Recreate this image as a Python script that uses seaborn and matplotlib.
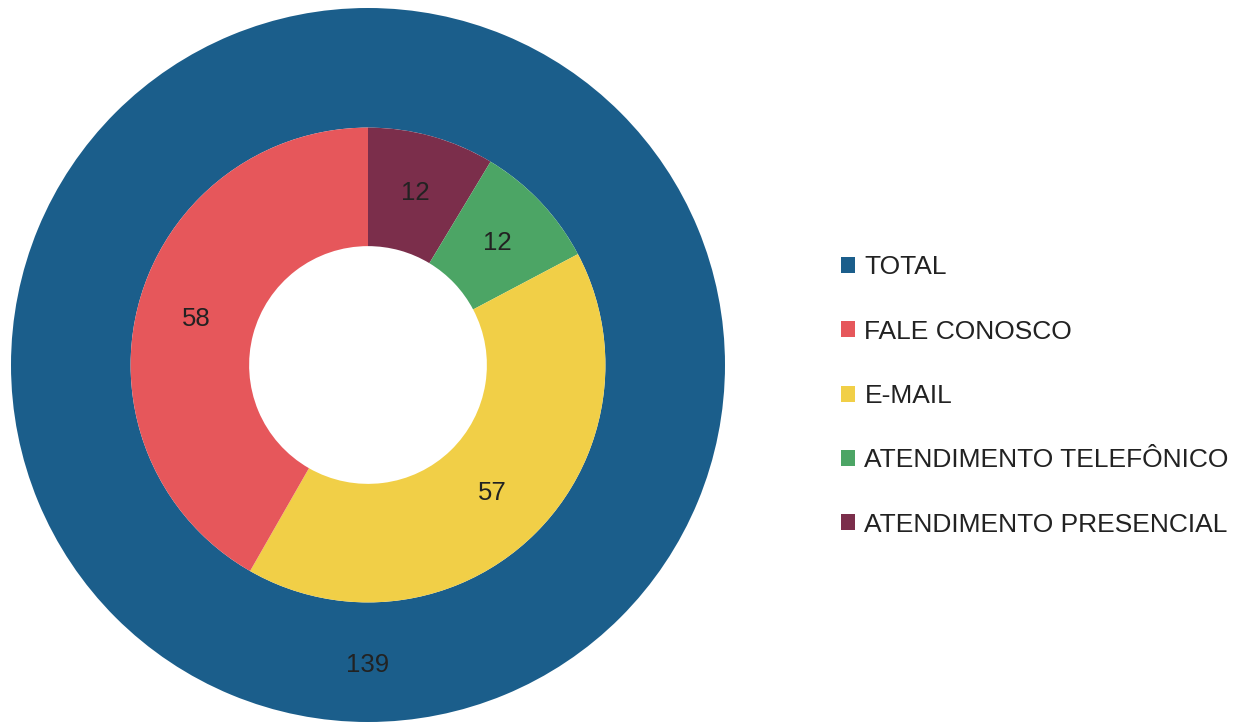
import matplotlib
matplotlib.use("Agg")
import matplotlib.pyplot as plt
import seaborn as sns
from matplotlib.patches import Patch

# Data
total_label = "TOTAL"
total_value = [139]

channels = ["ATENDIMENTO PRESENCIAL", "ATENDIMENTO TELEFÔNICO", "E-MAIL", "FALE CONOSCO"]
channel_values = [12, 12, 57, 58]

legend_order = ["TOTAL", "FALE CONOSCO", "E-MAIL", "ATENDIMENTO TELEFÔNICO", "ATENDIMENTO PRESENCIAL"]

colors = {
    "TOTAL": "#1b5e8b",
    "FALE CONOSCO": "#e6575b",
    "E-MAIL": "#f1cf47",
    "ATENDIMENTO TELEFÔNICO": "#4ca565",
    "ATENDIMENTO PRESENCIAL": "#7b2e4b",
}

sns.set_theme(style="white")
plt.rcParams['font.family'] = ['Liberation Sans', 'DejaVu Sans']

W, H = 1245, 722
fig = plt.figure(figsize=(W / 100, H / 100), dpi=100)

# square axes centred on the donut
cx, cy, r = 368, 365, 357
ax = fig.add_axes([(cx - r) / W, (H - cy - r) / H, 2 * r / W, 2 * r / H])

hole = 0.333
ring_outer = 0.665

# outer ring: total
ax.pie(total_value, radius=1.0, colors=[colors[total_label]], startangle=90,
       counterclock=False, wedgeprops=dict(width=1.0 - ring_outer, linewidth=0),
       autopct=lambda p: f"{round(p * sum(total_value) / 100)}", pctdistance=0.84,
       textprops=dict(fontsize=18.5, color="#222222"))

# inner ring: channels
ax.pie(channel_values, radius=ring_outer, colors=[colors[c] for c in channels],
       startangle=90, counterclock=False,
       wedgeprops=dict(width=ring_outer - hole, linewidth=0),
       autopct=lambda p: f"{round(p * sum(channel_values) / 100)}",
       pctdistance=(hole + ring_outer) / 2 / ring_outer,
       textprops=dict(fontsize=18.5, color="#222222"))

ax.set_xlim(-1, 1)
ax.set_ylim(-1, 1)
ax.set_aspect("equal")
ax.axis("off")

handles = [Patch(facecolor=colors[k], edgecolor="none") for k in legend_order]
fig.legend(handles, legend_order, loc="center left",
           bbox_to_anchor=(817 / W, 1 - 396 / H), frameon=False,
           fontsize=19, handlelength=0.55, handleheight=0.55,
           handletextpad=0.35, labelspacing=1.53, labelcolor="#222222")

fig.savefig("out.png", dpi=100)
